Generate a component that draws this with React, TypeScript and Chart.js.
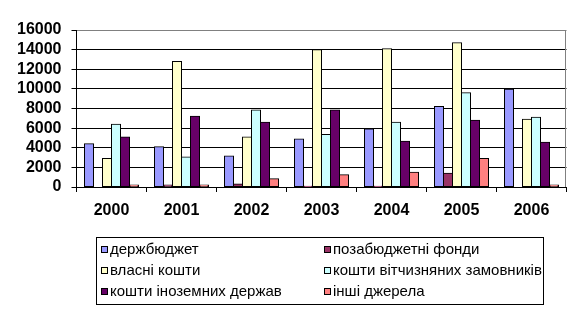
import React, { useEffect, useRef } from "react";
import { Chart, registerables } from "chart.js";

Chart.register(...registerables);

const years = ["2000", "2001", "2002", "2003", "2004", "2005", "2006"];
const seriesNames = [
  "держбюджет",
  "позабюджетні фонди",
  "власні кошти",
  "кошти вітчизняних замовників",
  "кошти іноземних держав",
  "інші джерела",
];
const derzhbudzhet = [4400, 4100, 3150, 4900, 5900, 8200, 9950];
const pozabudzhetni = [0, 200, 300, 80, 80, 1400, 0];
const vlasni = [2900, 12800, 5100, 14000, 14100, 14700, 6900];
const vitchyzn = [6400, 3050, 7850, 5350, 6600, 9600, 7100];
const inozemni = [5100, 7200, 6600, 7850, 4650, 6800, 4550];
const inshi = [200, 200, 850, 1250, 1500, 2900, 200];
const seriesColors = ["#9999FF", "#993366", "#FFFFCC", "#CCFFFF", "#660066", "#FF8080"];
const yMax = 16000;
const yStep = 2000;

const FONT = "'Liberation Sans', Arial, sans-serif";

const legendPlugin = {
  id: "customLegendFrame",
  afterDraw(chart: any) {
    const ctx = chart.ctx;
    const area = chart.chartArea;
    ctx.save();
    ctx.strokeStyle = "#808080";
    ctx.lineWidth = 1;
    ctx.beginPath();
    ctx.moveTo(Math.floor(area.right) - 0.5, Math.floor(area.top) + 0.5);
    ctx.lineTo(Math.floor(area.right) - 0.5, area.bottom);
    ctx.stroke();
    ctx.strokeStyle = "#000";
    ctx.strokeRect(96.5, 237.5, 447, 67);
    ctx.font = "15px " + FONT;
    ctx.textBaseline = "middle";
    ctx.textAlign = "left";
    chart.data.datasets.forEach((ds: any, i: number) => {
      const col = i % 2;
      const row = Math.floor(i / 2);
      const x = col === 0 ? 101 : 324;
      const yc = 249 + row * 21;
      ctx.fillStyle = ds.backgroundColor;
      ctx.fillRect(x, yc - 3, 7, 7);
      ctx.strokeStyle = "#000";
      ctx.strokeRect(x + 0.5, yc - 2.5, 6, 6);
      ctx.fillStyle = "#000";
      ctx.fillText(ds.label, x + 9, yc + 1);
    });
    ctx.restore();
  },
};

export default function App() {
  const ref = useRef<HTMLCanvasElement>(null);
  useEffect(() => {
    if (!ref.current) return;
    const values = [derzhbudzhet, pozabudzhetni, vlasni, vitchyzn, inozemni, inshi];
    const chart = new Chart(ref.current, {
      type: "bar",
      data: {
        labels: years,
        datasets: seriesNames.map((name, i) => ({
          label: name,
          data: values[i],
          backgroundColor: seriesColors[i],
          borderColor: "#000",
          borderWidth: 1,
          borderSkipped: false,
          barThickness: 9,
          inflateAmount: 0.5,
        })),
      },
      options: {
        responsive: false,
        animation: false,
        layout: { padding: { top: 30, right: 14.5, left: 0, bottom: 0 } },
        plugins: { legend: { display: false }, tooltip: { enabled: false } },
        scales: {
          x: {
            offset: true,
            grid: {
              offset: true,
              drawOnChartArea: false,
              drawTicks: true,
              tickLength: 5,
              color: "#000",
            },
            border: { color: "#000", width: 1 },
            ticks: {
              color: "#000",
              padding: 9,
              font: { family: FONT, size: 16, weight: "bold" },
            },
            afterFit(scale: any) {
              scale.height = 315 - 187;
            },
          },
          y: {
            min: 0,
            max: yMax,
            grid: {
              color: (c: any) => (c.tick && c.tick.value === yMax ? "#808080" : "#000"),
              tickColor: "#000",
              tickLength: 5,
              drawTicks: true,
            },
            border: { color: "#000", width: 1 },
            ticks: {
              stepSize: yStep,
              autoSkip: false,
              color: "#000",
              padding: 10,
              font: { family: FONT, size: 16, weight: "bold" },
              callback: (v: any) => String(v),
            },
            afterFit(scale: any) {
              scale.width = 76.5;
            },
          },
        },
      },
      plugins: [legendPlugin],
    });
    return () => chart.destroy();
  }, []);
  return (
    <div style={{ position: "absolute", left: 0, top: 0, width: 581, height: 315, background: "#fff" }}>
      <canvas ref={ref} width={581} height={315} style={{ display: "block" }} />
    </div>
  );
}
